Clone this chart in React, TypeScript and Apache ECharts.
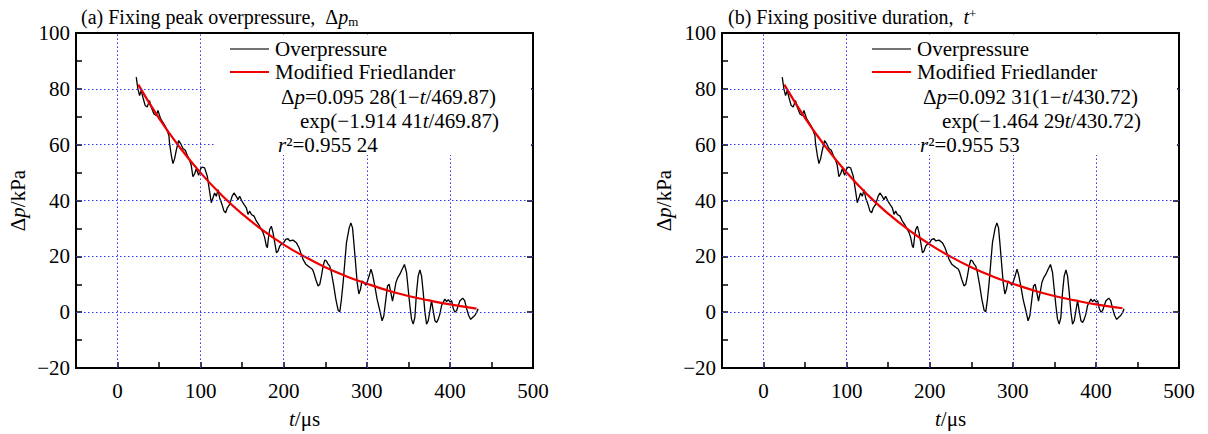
import React, { useEffect, useRef } from "react";
import * as echarts from "echarts";

const obsT = [
  22.5, 24.5, 26.5, 28.5, 30.5, 33.3, 35.7, 38.5, 40.5, 43.8, 46.6, 48.6, 51.8, 54.6, 56.6, 59.8,
  61.8, 62.6, 64.7, 66.7, 68.7, 70.7, 73.5, 75.9, 78.7, 81.5, 83.9, 86.7, 88.7, 90.7, 92.8, 94.8,
  97.6, 100, 102, 104.8, 108, 110.8, 112.8, 114.8, 116.8, 118.9, 120.9, 122.9, 125.7, 128.1, 130.1,
  132.1, 135, 137.8, 140.1, 142.9, 144.9, 147, 149.8, 152.2, 155, 157, 159, 161.1, 164.3, 167.1,
  169.9, 173.1, 175.1, 177.1, 179.1, 180.3, 181.9, 183.1, 185.1, 187.1, 189.2, 191.2, 193.2, 195.2,
  197.2, 200, 202.4, 205.2, 207.2, 211.2, 215.2, 218.4, 221.2, 223.3, 226.5, 229.3, 232.1, 234.5,
  236.1, 238.5, 241.3, 243.4, 245.4, 247.4, 249.4, 251.4, 253.4, 255.4, 257.4, 260.2, 262.7, 265.5,
  267.5, 269.5, 271.5, 273.5, 275.5, 278.8, 280.8, 282.8, 284.4, 286.4, 288.4, 290.4, 292.4, 294.1,
  296.5, 298.9, 300.9, 303, 305, 306.8, 309.6, 312.4, 315.7, 318.4, 320.5, 322.9, 324.9, 326.9,
  328.9, 330.9, 332.9, 335, 337.3, 339.8, 342.5, 345.3, 347.8, 349.8, 351.8, 353.8, 355.8, 357.8,
  359.8, 361.8, 363.9, 365.9, 367.9, 369.9, 371.9, 373.9, 375.9, 377.9, 379.9, 382, 384, 386, 388,
  390, 392, 394, 396, 398.1, 400.1, 402.1, 404.1, 406.1, 408.1, 410.1, 412.1, 415.4, 417.8, 420.2,
  422.6, 425, 427.5, 429.9, 432.3, 433.9,
];
const obsP = [
  84.2, 80, 77.6, 79.4, 77, 74, 73.5, 75.8, 73.5, 71, 70.5, 72.3, 69.3, 68, 67, 65,
  63.3, 60.4, 56.2, 53.2, 55, 58, 61.5, 60.4, 58.6, 58, 56.2, 54.4, 52.6, 48.5, 49.6, 51.4,
  49, 51.4, 52, 51.7, 48.7, 43.3, 39.2, 40.9, 42.7, 41.5, 43.9, 40.9, 38.6, 36.2, 35.6,
  37.4, 38.6, 41.5, 42.7, 41.5, 40.3, 41.5, 39.7, 38.6, 37.4, 35, 36.2, 35, 34.4, 32.6,
  31.4, 29.6, 28.5, 26.7, 23.7, 23.1, 27.3, 29.6, 30.8, 28.5, 24.9, 21.3, 21.9, 23.7,
  24.3, 24.9, 26.1, 26.3, 25.5, 25.8, 24.9, 23.1, 20.7, 18.9, 17.2, 16.5, 15.9, 15.4,
  14.2, 11.8, 9.4, 10, 13, 16.5, 18.7, 18.3, 17.2, 16.5, 14.2, 9.4, 4.7, 0.6,
  0.2, 4.7, 10.6, 17.8, 24.9, 30.2, 32, 30.2, 24.9, 17.8, 10.6, 6.5, 8.2, 11.2,
  10.6, 9.6, 11.2, 13.2, 15.4, 13.6, 9.4, 4.6, 0.5, -3.1, -1.3, 4.6, 9.4, 10,
  7, 4, 7, 10.6, 12.4, 13.6, 15.4, 17.1, 14.2, 8.2, 2.4, -2.5, -4.3, -1.9,
  7, 12.9, 15.1, 12.9, 7, 0, -4.3, -3.1, 0.5, 4.1, 0.5, -3.1, -3.7, -2.5, -0.6,
  2.4, 3.6, 4.7, 3.8, 4.5, 3.6, 4.1, 1.2, 0, 0.6, 2.4, 4.1, 5, 4.1, 1.2,
  -1.2, -2.6, -1.8, -1.2, 0, 1.2,
];

// Modified Friedlander fitted curves
const fitT = [25, 50, 75, 100, 125, 150, 175, 200, 225, 250, 275, 300, 325, 350, 375, 400, 432];
const fitA = [81.5, 69.4, 59.0, 49.9, 42.0, 35.2, 29.3, 24.2, 19.9, 16.1, 12.9, 10.2, 7.8, 5.8, 4.2, 2.8, 1.3];
const fitB = [81.5, 69.5, 59.1, 50.0, 42.1, 35.3, 29.4, 24.3, 19.9, 16.1, 12.9, 10.2, 7.8, 5.8, 4.2, 2.8, 1.4];

const gridXTicks = [0, 100, 200, 300, 400];
const gridYTicks = [0, 20, 40, 60, 80];

const titles = ["(a) Fixing peak overpressure,  ", "(b) Fixing positive duration,  "];
const formulaA = ["0.095 28(1−", "/469.87)", "exp(−1.914 41", "/469.87)", "=0.955 24"];
const formulaB = ["0.092 31(1−", "/430.72)", "exp(−1.464 29", "/430.72)", "=0.955 53"];

const FONT = "Liberation Serif, DejaVu Serif, serif";
const FS = 21;

export default function App() {
  const ref = useRef<HTMLDivElement>(null);
  useEffect(() => {
    document.body.style.margin = "0";
    const chart = echarts.init(ref.current!, null, { renderer: "svg" });

    const rich = {
      n: { fontFamily: FONT, fontSize: FS, color: "#000" },
      i: { fontFamily: FONT, fontSize: FS, fontStyle: "italic", color: "#000" },
      t: { fontFamily: FONT, fontSize: 20, color: "#000" },
      ti: { fontFamily: FONT, fontSize: 20, fontStyle: "italic", color: "#000" },
      sub: { fontFamily: FONT, fontSize: 13, color: "#000", verticalAlign: "bottom", padding: [8, 0, 0, 0] },
      sup: { fontFamily: FONT, fontSize: 13, color: "#000", verticalAlign: "top", padding: [0, 0, 8, 0] },
    };

    const grids = [
      { left: 76, top: 33, width: 457, height: 335 },
      { left: 722, top: 33, width: 457, height: 335 },
    ];

    const xAxes = grids.map((_, gi) => ({
      type: "value",
      gridIndex: gi,
      min: -50,
      max: 500,
      interval: 50,
      axisLine: { show: true, onZero: false, lineStyle: { color: "#000", width: 2 } },
      axisTick: { show: true, inside: true, length: 6, lineStyle: { color: "#000", width: 1.5 } },
      axisLabel: {
        color: "#000",
        fontFamily: FONT,
        fontSize: FS,
        margin: 12,
        formatter: (v: number) => (v % 100 === 0 && v >= 0 ? String(v) : ""),
      },
      splitLine: { show: false },
      name: "{i|t}{n|/μs}",
      nameLocation: "middle",
      nameGap: 40,
      nameTextStyle: { rich },
    }));

    const yAxes: any[] = [];
    grids.forEach((_, gi) => {
      yAxes.push({
        type: "value",
        gridIndex: gi,
        position: "left",
        min: -20,
        max: 100,
        interval: 10,
        axisLine: { show: true, onZero: false, lineStyle: { color: "#000", width: 2 } },
        axisTick: { show: true, inside: true, length: 6, lineStyle: { color: "#000", width: 1.5 } },
        axisLabel: {
          color: "#000",
          fontFamily: FONT,
          fontSize: FS,
          margin: 6,
          formatter: (v: number) =>
            v % 20 === 0 ? (v < 0 ? "−" + Math.abs(v) : String(v)) : "",
        },
        splitLine: { show: false },
        name: "{n|Δ}{i|p}{n|/kPa}",
        nameLocation: "middle",
        nameGap: 48,
        nameTextStyle: { rich },
      });
      yAxes.push({
        type: "value",
        gridIndex: gi,
        position: "right",
        min: -20,
        max: 100,
        interval: 20,
        axisLine: { show: true, onZero: false, lineStyle: { color: "#000", width: 2 } },
        axisTick: { show: true, inside: true, length: 6, lineStyle: { color: "#000", width: 1.5 } },
        axisLabel: { show: false },
        splitLine: { show: false },
      });
    });

    const obsData = obsT.map((t, i) => [t, obsP[i]]);
    const fits = [fitA, fitB];

    const series: any[] = [];
    grids.forEach((_, gi) => {
      series.push({
        type: "line",
        xAxisIndex: gi,
        yAxisIndex: gi * 2,
        data: [],
        z: 1,
        markLine: {
          silent: true,
          symbol: ["none", "none"],
          label: { show: false },
          lineStyle: { color: "#3535e6", type: [1.5, 2.5], width: 1 },
          emphasis: { disabled: true },
          data: [
            ...gridXTicks.map((v) => ({ xAxis: v })),
            ...gridYTicks.map((v) => ({ yAxis: v })),
          ],
        },
      });
      series.push({
        type: "line",
        xAxisIndex: gi,
        yAxisIndex: gi * 2,
        data: obsData,
        showSymbol: false,
        symbol: "none",
        lineStyle: { color: "#000", width: 1.3 },
        z: 3,
      });
      series.push({
        type: "line",
        xAxisIndex: gi,
        yAxisIndex: gi * 2,
        data: fitT.map((t, i) => [t, fits[gi][i]]),
        showSymbol: false,
        symbol: "none",
        smooth: true,
        lineStyle: { color: "#ee0000", width: 2.2 },
        z: 4,
      });
    });

    const white = { fill: "#fff", stroke: "none" };
    const txt = (x: number, y: number, text: string) => ({
      type: "text",
      x,
      y,
      z: 20,
      style: { text, rich, verticalAlign: "middle", fill: "#000", fontFamily: FONT, fontSize: FS },
    });

    const legendBlock = (ox: number, rectA: number[], rectB: number[], f: string[]) => [
      { type: "rect", z: 10, shape: { x: rectA[0], y: rectA[1], width: rectA[2], height: rectA[3] }, style: white },
      { type: "rect", z: 10, shape: { x: rectB[0], y: rectB[1], width: rectB[2], height: rectB[3] }, style: white },
      { type: "line", z: 20, shape: { x1: ox - 45, y1: 49, x2: ox - 6, y2: 49 }, style: { stroke: "#444", lineWidth: 1.3 } },
      { type: "line", z: 20, shape: { x1: ox - 45, y1: 72, x2: ox - 6, y2: 72 }, style: { stroke: "#ee0000", lineWidth: 2.2 } },
      txt(ox, 49, "{n|Overpressure}"),
      txt(ox, 72, "{n|Modified Friedlander}"),
      txt(ox + 6, 97, `{n|Δ}{i|p}{n|=${f[0]}}{i|t}{n|${f[1]}}`),
      txt(ox + 25, 121, `{n|${f[2]}}{i|t}{n|${f[3]}}`),
      txt(ox + 3, 145, `{i|r}{n|²${f[4]}}`),
    ];

    const option: any = {
      animation: false,
      backgroundColor: "#fff",
      grid: grids.map((g) => ({ ...g, show: true, borderColor: "#000", borderWidth: 2, backgroundColor: "transparent" })),
      xAxis: xAxes,
      yAxis: yAxes,
      series,
      graphic: [
        txt(81, 17, `{t|${titles[0]}Δ}{ti|p}{sub|m}`),
        txt(728, 17, `{t|${titles[1]}}{ti|t}{sup|+}`),
        ...legendBlock(275, [205, 35, 326, 103], [216, 138, 315, 17], formulaA),
        ...legendBlock(917, [849, 35, 328, 103], [928, 138, 249, 17], formulaB),
      ],
    };
    chart.setOption(option);
    return () => chart.dispose();
  }, []);
  return <div ref={ref} style={{ width: 1208, height: 434 }} />;
}
